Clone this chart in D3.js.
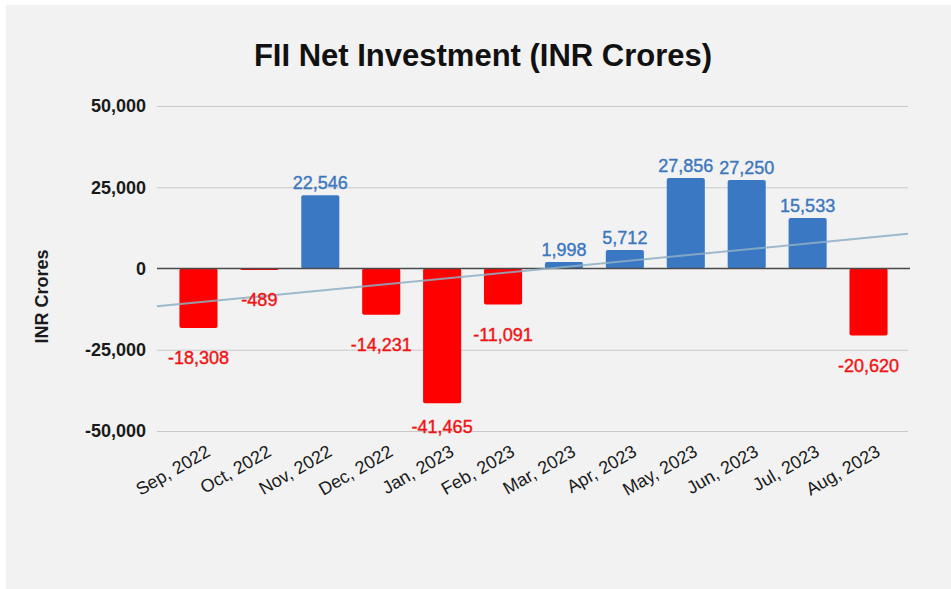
<!DOCTYPE html>
<html>
<head>
<meta charset="utf-8">
<script src="https://cdn.jsdelivr.net/npm/d3@7"></script>
<style>
  html, body { margin: 0; padding: 0; background: #ffffff; }
  svg { display: block; font-family: "Liberation Sans", Arial, sans-serif; }
</style>
</head>
<body>
<svg id="chart" width="951" height="589"></svg>
<script>
// Monthly FII net investment, INR crores
const months = ["Sep, 2022", "Oct, 2022", "Nov, 2022", "Dec, 2022", "Jan, 2023", "Feb, 2023",
                "Mar, 2023", "Apr, 2023", "May, 2023", "Jun, 2023", "Jul, 2023", "Aug, 2023"];
const netInvestment = [-18308, -489, 22546, -14231, -41465, -11091,
                       1998, 5712, 27856, 27250, 15533, -20620];
const yTicks = [50000, 25000, 0, -25000, -50000];

const W = 951, H = 589;
const svg = d3.select("#chart");

// card background
svg.append("rect").attr("x", 6).attr("y", 5).attr("width", W - 6).attr("height", H - 5)
  .attr("fill", "#f2f2f2");

const gridLeft = 157, gridRight = 908;

const x = d3.scaleBand().domain(months).range([168, 899])
  .paddingInner(0.375).paddingOuter(0.1875);
const y = d3.scaleLinear().domain([-50000, 50000]).range([431, 106]);

// thousands separator with a plain hyphen for negatives
const comma = d3.format(",");
const fmt = v => comma(v).replace("\u2212", "-");

// horizontal gridlines + tick labels
const yAxis = d3.axisLeft(y).tickValues(yTicks).tickFormat(fmt).tickSize(0).tickPadding(11);
const gy = svg.append("g").attr("transform", `translate(${gridLeft},0)`).call(yAxis);
gy.select(".domain").remove();
gy.selectAll(".tick text")
  .attr("font-family", "'Liberation Sans', Arial, sans-serif")
  .attr("font-size", 18).attr("font-weight", "bold").attr("fill", "#1a1a1a");
gy.selectAll(".tick").filter(d => d !== 0).append("line")
  .attr("x1", 0).attr("x2", gridRight - gridLeft)
  .attr("stroke", "#c9c9c9").attr("stroke-width", 1);

// bars
const pos = "#3b78c4", neg = "#ff0000";
svg.append("g").selectAll("rect").data(netInvestment).join("rect")
  .attr("x", (d, i) => x(months[i]))
  .attr("width", x.bandwidth())
  .attr("y", d => y(Math.max(0, d)))
  .attr("height", d => Math.abs(y(d) - y(0)))
  .attr("rx", 2)
  .attr("fill", d => d >= 0 ? pos : neg);

// zero baseline
svg.append("line")
  .attr("x1", gridLeft).attr("x2", gridRight + 2)
  .attr("y1", y(0)).attr("y2", y(0))
  .attr("stroke", "#4a4a4a").attr("stroke-width", 1.5);

// linear trendline (least squares over month index)
const mx = d3.mean(netInvestment, (d, i) => i);
const my = d3.mean(netInvestment);
const slope = d3.sum(netInvestment, (d, i) => (i - mx) * (d - my)) /
              d3.sum(netInvestment, (d, i) => (i - mx) * (i - mx));
const intercept = my - slope * mx;
const step = x.step();
const c0 = x(months[0]) + x.bandwidth() / 2;
const idxAt = px => (px - c0) / step;
const trendAt = px => intercept + slope * idxAt(px);
svg.append("line")
  .attr("x1", gridLeft).attr("y1", y(trendAt(gridLeft)))
  .attr("x2", gridRight).attr("y2", y(trendAt(gridRight)))
  .attr("stroke", "#8fb0c6").attr("stroke-width", 2).attr("opacity", 0.85);

// value labels
svg.append("g").selectAll("text").data(netInvestment).join("text")
  .attr("x", (d, i) => x(months[i]) + x.bandwidth() / 2)
  .attr("y", d => d >= 0 ? y(d) - 6 : Math.min(y(d) + 36, y(-50000) + 2))
  .attr("text-anchor", "middle")
  .attr("font-size", 18)
  .attr("fill", d => d >= 0 ? "#3d78be" : "#f01414")
  .attr("stroke", d => d >= 0 ? "#3d78be" : "#f01414")
  .attr("stroke-width", 0.4)
  .text(d => fmt(d));

// category labels, rotated
svg.append("g").selectAll("text").data(months).join("text")
  .attr("transform", d => `translate(${x(d) + x.bandwidth() / 2 + 13},455) rotate(-30)`)
  .attr("text-anchor", "end")
  .attr("font-size", 18)
  .attr("fill", "#1a1a1a")
  .text(d => d);

// axis title
svg.append("text")
  .attr("transform", `translate(48,${(y(50000) + y(-50000)) / 2 + 28}) rotate(-90)`)
  .attr("text-anchor", "middle")
  .attr("font-size", 18).attr("font-weight", "bold").attr("fill", "#1a1a1a")
  .text("INR Crores");

// chart title
svg.append("text")
  .attr("x", 483).attr("y", 66)
  .attr("text-anchor", "middle")
  .attr("font-size", 31).attr("font-weight", "bold").attr("fill", "#111")
  .text("FII Net Investment (INR Crores)");
</script>
</body>
</html>
